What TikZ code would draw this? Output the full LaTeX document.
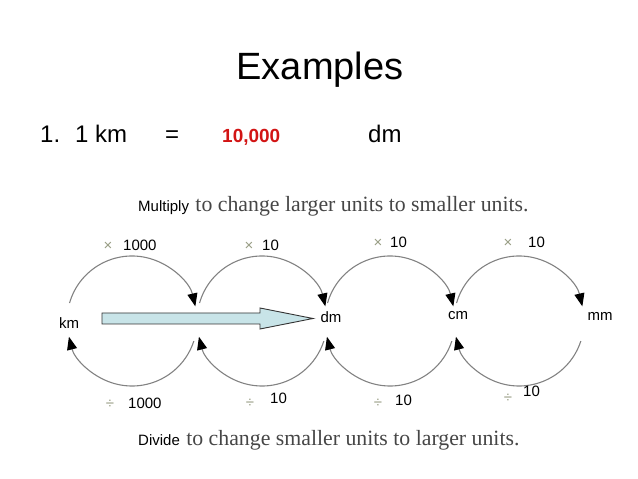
\documentclass[tikz,border=0pt]{standalone}
\usepackage{fontspec}
\setmainfont{Liberation Sans}
\newfontfamily\timesfont{Liberation Serif}
\usetikzlibrary{arrows.meta,positioning,calc}

\definecolor{arcgray}{RGB}{130,130,130}
\definecolor{signgray}{RGB}{150,155,130}
\definecolor{notegray}{RGB}{70,70,70}
\definecolor{answerred}{RGB}{210,20,20}
\definecolor{arrowfill}{RGB}{200,228,232}

\tikzset{
  plain/.style={inner sep=0pt, anchor=base west},
  unitlabel/.style={inner sep=0pt, font=\fontsize{15}{15}\selectfont},
  factor/.style={plain, font=\fontsize{15}{15}\selectfont},
  sign/.style={inner sep=0pt, anchor=base, text=signgray, font=\fontsize{15}{15}\selectfont},
  note/.style={inner sep=0pt, text=notegray, font=\timesfont\fontsize{21.8}{22}\selectfont},
  hop/.style={draw=arcgray, line width=1.1pt, -{Triangle[length=13pt,width=10pt,black]}}
}

\begin{document}
\begin{tikzpicture}[x=1pt, y=1pt]
        \useasboundingbox (0,0) rectangle (638,479);

        % Heading
        \node[inner sep=0pt, anchor=base, font=\fontsize{38}{38}\selectfont] (title) at (320,399) {Examples};

        % Example line
        \node[plain, font=\fontsize{24}{24}\selectfont] (num) at (40,336) {1.};
        \node[plain, font=\fontsize{24}{24}\selectfont] (lhs) at (75,336) {1 km};
        \node[plain, font=\fontsize{24}{24}\selectfont] (eq) at (165,336) {=};
        \node[plain, text=answerred, font=\bfseries\fontsize{19}{19}\selectfont] (answer) at (222,336) {10,000};
        \node[plain, font=\fontsize{24}{24}\selectfont] (rhs) at (368,336) {dm};

        % Rules
        \node[factor] (multiply) at (138,267) {Multiply};
        \node[note, base right=6pt of multiply] (uprule) {to change larger units to smaller units.};
        \node[factor] (divide) at (138,33) {Divide};
        \node[note, base right=6pt of divide] (downrule) {to change smaller units to larger units.};

        % Units
        \node[unitlabel] (km) at (69,156) {km};
        \node[unitlabel] (dm) at (331,162) {dm};
        \node[unitlabel] (cm) at (458,163) {cm};
        \node[unitlabel] (mm) at (600,163) {mm};

        % Hops
        \foreach \i/\cx in {1/132,2/262,3/390,4/519} {
          \coordinate (c\i) at (\cx,158);
          \draw[hop] (c\i) ++(164:65) arc[start angle=164, end angle=13, radius=65];
          \draw[hop] (c\i) ++(-18:65) arc[start angle=-18, end angle=-166, radius=65];
        }

        % Factors above
        \foreach \sx/\nx/\ny/\val in {108/123/228/1000, 249/262/228/10, 378/390/231/10, 508/528/231/10} {
          \node[sign] at (\sx,\ny) {×};
          \node[factor] at (\nx,\ny) {\val};
        }

        % Factors below
        \foreach \sx/\sy/\nx/\ny/\val in {110/70/128/70/1000, 250/71/270/75/10, 378/71/395/73/10, 508/76/523/82/10} {
          \node[sign] at (\sx,\sy) {÷};
          \node[factor] at (\nx,\ny) {\val};
        }

        % Big arrow
        \coordinate (tail) at (102,160.5);
        \draw[fill=arrowfill, draw=black!80, line width=0.9pt]
          (tail) ++(0,5.5) -- ++(158,0) -- ++(0,5) -- (313,160.5) -- (260,150) -- ++(0,5) -- ++(-158,0) -- cycle;
    \end{tikzpicture}
\end{document}
